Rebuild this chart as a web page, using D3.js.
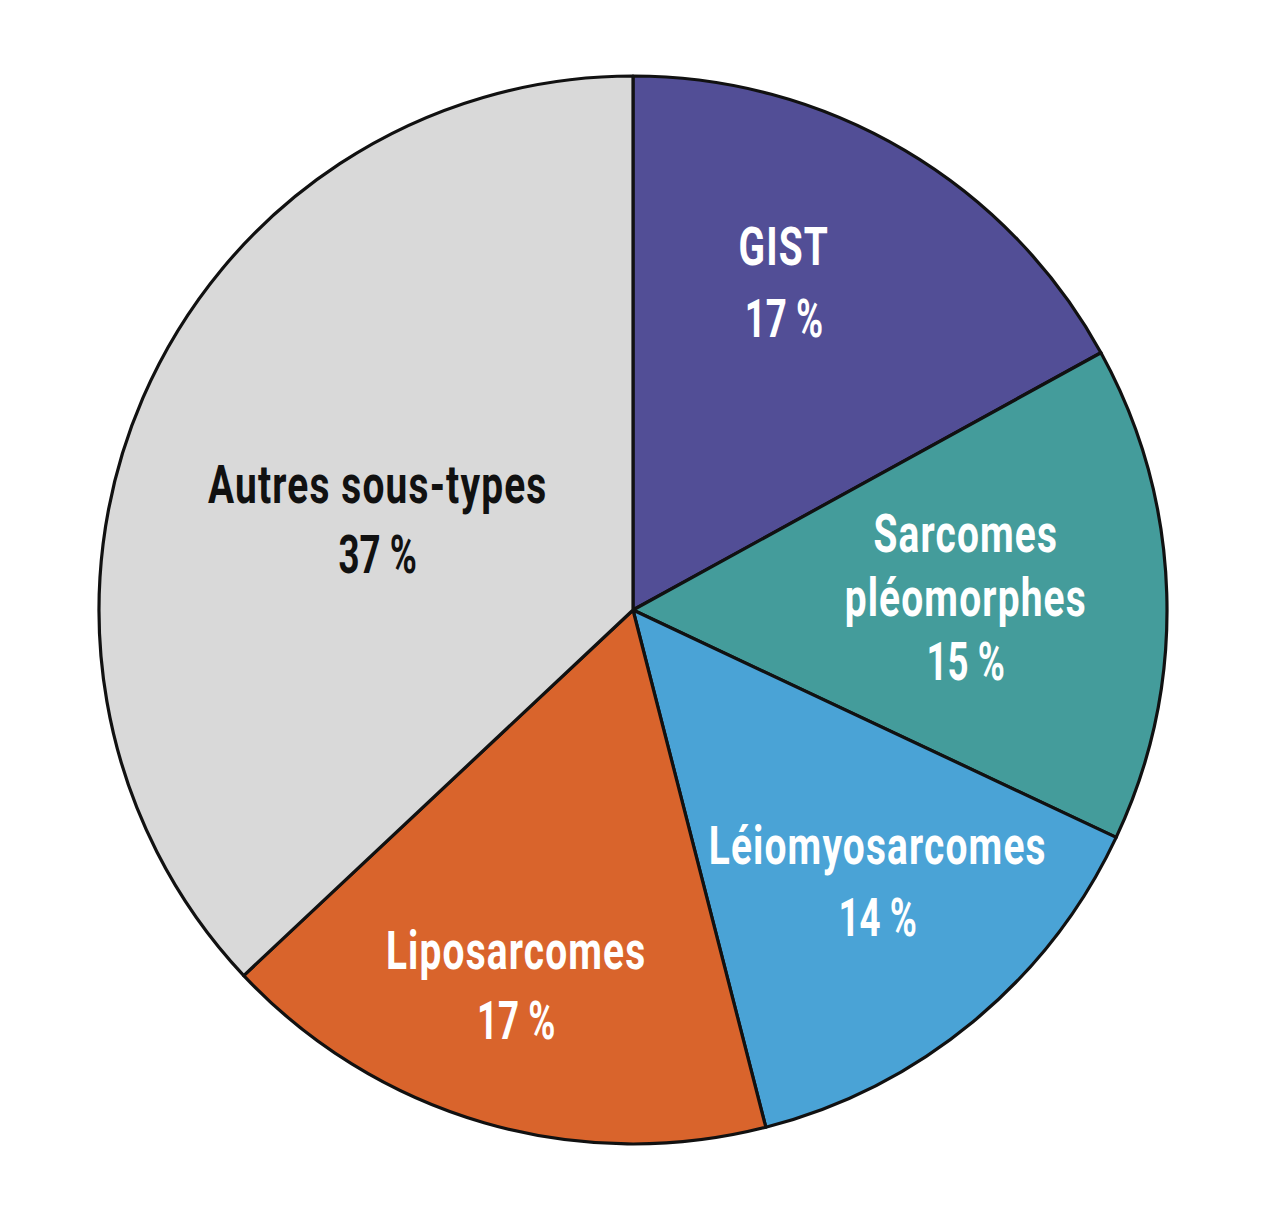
<!DOCTYPE html>
<html><head><meta charset="utf-8">
<script src="https://cdn.jsdelivr.net/npm/d3@7/dist/d3.min.js"></script>
<style>html,body{margin:0;padding:0;background:#fff;}svg{display:block;}</style>
</head><body>
<svg id="chart" width="1280" height="1228"></svg>
<script>
// ---- data ----
const categories = ["GIST", "Sarcomes pléomorphes", "Léiomyosarcomes", "Liposarcomes", "Autres sous-types"];
const labelLines = [["GIST"], ["Sarcomes", "pléomorphes"], ["Léiomyosarcomes"], ["Liposarcomes"], ["Autres sous-types"]];
const values = [17, 15, 14, 17, 37];
const percentLabels = ["17 %", "15 %", "14 %", "17 %", "37 %"];

// ---- styles / layout ----
const colors = ["#524e96", "#449c9b", "#4aa3d6", "#d9642c", "#d9d9d9"];
const textColors = ["#fff", "#fff", "#fff", "#fff", "#111"];
// label anchor in polar coords (degrees from top, clockwise; radius px)
const labelAnchor = [[24.7, 361], [87.8, 333], [137.9, 365], [197.3, 393], [289.6, 271]];
const lineGaps = [72, 64, 72, 70, 70];

const W = 1280, H = 1228, cx = 633, cy = 610, R = 534;
const fontSize = 54;

const svg = d3.select("#chart");
const g = svg.append("g").attr("transform", `translate(${cx},${cy})`);

const pie = d3.pie().sort(null).value(d => d)(values);
const arc = d3.arc().innerRadius(0).outerRadius(R);

g.selectAll("path.slice").data(pie).join("path")
  .attr("class", "slice")
  .attr("d", arc)
  .attr("fill", (d, i) => colors[i])
  .attr("stroke", "#111")
  .attr("stroke-width", 3.2)
  .attr("stroke-linejoin", "round");

const labels = g.selectAll("g.label").data(pie).join("g")
  .attr("class", "label")
  .attr("transform", (d, i) => {
    const [x, y] = d3.pointRadial(labelAnchor[i][0] * Math.PI / 180, labelAnchor[i][1]);
    return `translate(${x},${y})`;
  });

labels.each(function(d, i) {
  const names = labelLines[i];
  const lines = names.concat([percentLabels[i]]);
  const n = lines.length;
  const gap = lineGaps[i];
  const capH = fontSize * 0.711;
  const blockH = (n - 1) * gap + capH;
  const sel = d3.select(this);
  lines.forEach((t, k) => {
    const isPct = k === n - 1;
    const sx = isPct ? 0.68 : 0.72;
    sel.append("g").attr("transform", `scale(${sx},1)`)
      .append("text")
      .attr("x", 0)
      .attr("y", -blockH / 2 + capH + k * gap)
      .attr("text-anchor", "middle")
      .attr("font-family", "Roboto, 'Noto Sans', sans-serif")
      .attr("font-weight", 700)
      .attr("font-size", fontSize)
      .attr("letter-spacing", isPct ? 0 : 1.6)
      .attr("fill", textColors[i])
      .text(t);
  });
});
</script>
</body></html>
